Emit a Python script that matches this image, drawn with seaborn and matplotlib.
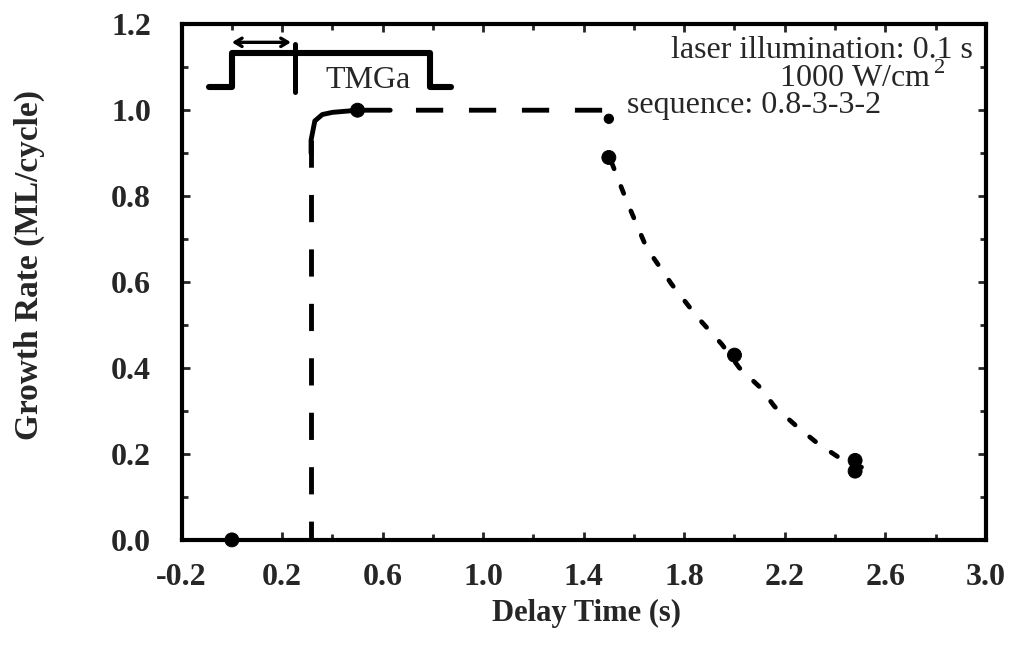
import numpy as np
import pandas as pd
import matplotlib
matplotlib.use("Agg")
import matplotlib.pyplot as plt
import seaborn as sns
from matplotlib.ticker import MultipleLocator

# measured growth rate per cycle vs. delay time
delay = [0.0, 0.5, 1.5, 1.5, 2.0, 2.48, 2.48]
rate = [0.0, 1.0, 0.98, 0.89, 0.43, 0.185, 0.16]
dot_size = [100, 100, 45, 100, 100, 100, 100]

# guide line: onset of growth (dashed rise, rounded corner, plateau)
rise_x = [0.315, 0.315]
rise_y = [0.93, 0.0]
corner_x = [0.315, 0.315, 0.33, 0.36, 0.40, 0.50, 0.63]
corner_y = [0.90, 0.93, 0.975, 0.99, 0.995, 1.0, 1.0]
plateau_x = [0.63, 1.48, 1.50]
plateau_y = [1.0, 1.0, 0.98]

# guide line: decay after the plateau (dotted)
decay_x = [1.51, 1.57, 1.65, 1.75, 1.85, 1.95, 2.02, 2.10, 2.16, 2.25, 2.33, 2.42, 2.50, 2.55]
decay_y = [0.88, 0.79, 0.68, 0.595, 0.52, 0.455, 0.40, 0.356, 0.31, 0.263, 0.225, 0.19, 0.17, 0.163]

# gas pulse sketch (TMGa on/off)
pulse_x = [-0.09, 0.0, 0.0, 0.79, 0.79, 0.87]
pulse_y = [1.053, 1.053, 1.133, 1.133, 1.053, 1.053]

x_ticks = [-0.2, 0.2, 0.6, 1.0, 1.4, 1.8, 2.2, 2.6, 3.0]
y_ticks = [0.0, 0.2, 0.4, 0.6, 0.8, 1.0, 1.2]

sns.set_style("ticks")
serif = ["Liberation Serif", "DejaVu Serif"]
plt.rcParams["font.family"] = serif
plt.rcParams["mathtext.fontset"] = "custom"
plt.rcParams["mathtext.rm"] = "Liberation Serif"

fig = plt.figure(figsize=(10.09, 6.56), dpi=100)
ax = fig.add_axes([0.180, 0.177, 0.797, 0.786])

ink = "black"
lw = 3.5


def guide(xs, ys, width=lw, style="-", cap="butt"):
    sns.lineplot(x=xs, y=ys, ax=ax, color=ink, lw=width,
                 estimator=None, sort=False)
    line = ax.lines[-1]
    line.set_linestyle(style)
    line.set_dash_capstyle(cap)
    line.set_solid_capstyle("round")
    line.set_solid_joinstyle("round")
    return line


guide(rise_x, rise_y, style=(0, (5.6, 5.6)))
guide(corner_x, corner_y)
guide(plateau_x, plateau_y, style=(5.6, (5.6, 5.3)))
guide(decay_x, decay_y, width=3.4, style=(0, (1.6, 4.0)), cap="round")
guide(pulse_x, pulse_y, width=4.4)

df = pd.DataFrame({"delay": delay, "rate": rate, "s": dot_size})
sns.scatterplot(data=df, x="delay", y="rate", size="s", sizes=(45, 100),
                color=ink, edgecolor=ink, legend=False, ax=ax, zorder=5,
                clip_on=False)

# pulse markers: separator and width arrow
ax.plot([0.25, 0.25], [1.042, 1.155], color=ink, lw=3.6, solid_capstyle="round")
ax.annotate("", xy=(0.0, 1.158), xytext=(0.235, 1.158),
            arrowprops=dict(arrowstyle="<->,head_length=0.5,head_width=0.3",
                            color=ink, lw=2.4, shrinkA=0, shrinkB=0))
ax.text(0.54, 1.068, "TMGa", fontsize=23, ha="center", va="center")

ax.text(2.95, 1.140, "laser illumination: 0.1 s", fontsize=23, ha="right", va="center")
ax.text(2.84, 1.074, r"1000 W/cm$^{\,2}$", fontsize=23, ha="right", va="center")
ax.text(1.574, 1.012, "sequence: 0.8-3-3-2", fontsize=23, ha="left", va="center")

ax.set_xlim(-0.2, 3.0)
ax.set_ylim(0.0, 1.2)
ax.set_xticks(x_ticks)
ax.set_xticklabels([f"{v:.1f}" for v in x_ticks], fontweight="bold")
ax.xaxis.set_minor_locator(MultipleLocator(0.2))
ax.set_yticks(y_ticks)
ax.set_yticklabels([f"{v:.1f}" for v in y_ticks], fontweight="bold")
ax.yaxis.set_minor_locator(MultipleLocator(0.1))
ax.tick_params(which="both", direction="in", top=True, right=True,
               labelsize=23, width=2.0)
ax.tick_params(axis="x", which="both", pad=17)
ax.tick_params(axis="y", which="both", pad=22)
ax.tick_params(which="major", length=6)
ax.tick_params(which="minor", length=4)
for sp in ax.spines.values():
    sp.set_linewidth(3.0)
    sp.set_color(ink)

ax.set_xlabel("Delay Time (s)", fontsize=22, fontweight="bold")
ax.set_ylabel("Growth Rate (ML/cycle)", fontsize=24, fontweight="bold")
ax.xaxis.set_label_coords(0.504, -0.142)
ax.xaxis.label.set_va("center")
ax.yaxis.set_label_coords(-0.189, 0.533)
ax.yaxis.label.set_va("center")

fig.savefig("out.png", dpi=100)
